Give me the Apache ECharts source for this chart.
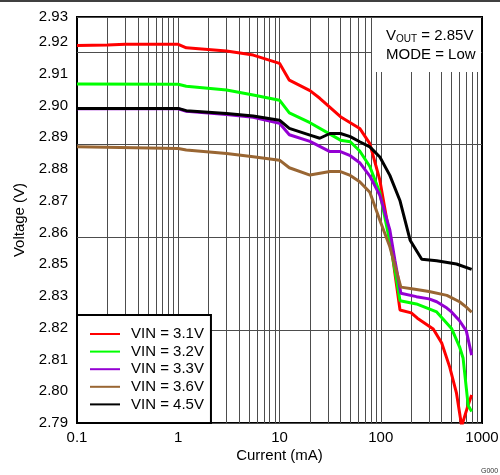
<!DOCTYPE html>
<html><head><meta charset="utf-8">
<script src="https://cdn.jsdelivr.net/npm/echarts@6/dist/echarts.min.js"></script>
<style>html,body{margin:0;padding:0;background:#fff}#c{width:500px;height:475px}</style>
</head><body><div id="c"></div>
<script>
// ---- data (current in mA, output voltage in V) ----
const seriesNames = ['VIN = 3.1V', 'VIN = 3.2V', 'VIN = 3.3V', 'VIN = 3.6V', 'VIN = 4.5V'];
const vin31 = [[0.1,2.9189],[0.2,2.9191],[0.3,2.9193],[1,2.9193],[1.2,2.9182],[3,2.9172],[5.5,2.9159],[10,2.9133],[12.5,2.9080],[20,2.9047],[25,2.9023],[40,2.8965],[62,2.8928],[78,2.8880],[98,2.8765],[123,2.8586],[155,2.8356],[200,2.8347],[230,2.8330],[330,2.8296],[400,2.8252],[480,2.8176],[560,2.8094],[630,2.7990],[720,2.8051],[790,2.8088]];
const vin32 = [[0.1,2.9068],[1,2.9067],[1.2,2.9061],[3,2.9049],[5.5,2.9033],[10,2.9017],[12.5,2.8977],[20,2.8946],[31.5,2.8910],[40,2.8891],[50,2.8886],[62,2.8857],[78,2.8808],[98,2.8725],[123,2.8570],[138,2.8482],[155,2.8385],[225,2.8375],[357,2.8350],[500,2.8298],[600,2.8240],[650,2.8205],[700,2.8110],[730,2.8055],[790,2.8036]];
const vin33 = [[0.1,2.8990],[1,2.8990],[1.2,2.8982],[3,2.8972],[5.5,2.8963],[10,2.8944],[12.5,2.8908],[20,2.8887],[31.5,2.8855],[40,2.8855],[50,2.8842],[62,2.8820],[78,2.8778],[98,2.8717],[123,2.8608],[138,2.8513],[158,2.8409],[225,2.8398],[300,2.8391],[357,2.8382],[450,2.8362],[500,2.8350],[600,2.8322],[700,2.8290],[790,2.8214]];
const vin36 = [[0.1,2.8870],[1,2.8865],[1.2,2.8860],[3,2.8849],[5.5,2.8839],[10,2.8828],[12.5,2.8804],[20,2.8781],[31.5,2.8792],[40,2.8792],[50,2.8780],[62,2.8760],[78,2.8727],[98,2.8639],[123,2.8555],[158,2.8428],[210,2.8422],[300,2.8414],[450,2.8402],[600,2.8382],[700,2.8365],[790,2.8349]];
const vin45 = [[0.1,2.8991],[1,2.8991],[1.2,2.8984],[3,2.8975],[5.5,2.8967],[10,2.8954],[12.5,2.8928],[20,2.8907],[25,2.8897],[31.5,2.8912],[40,2.8912],[50,2.8902],[62,2.8886],[78,2.8870],[98,2.8838],[123,2.8780],[155,2.8700],[195,2.8576],[254,2.8516],[357,2.8511],[560,2.8501],[790,2.8484]];
const seriesData = [vin31, vin32, vin33, vin36, vin45];
const seriesColors = ['#ff0000', '#00ff00', '#9400d3', '#996633', '#000000'];

// ---- axes / tick labels ----
const xTickLabels = ['0.1', '1', '10', '100', '1000'];
const yTickLabels = ['2.79','2.80','2.81','2.82','2.83','2.85','2.86','2.87','2.88','2.89','2.90','2.91','2.92','2.93'];
const xGridValues = [0.2,0.3,0.4,0.5,0.6,0.7,0.8,0.9,1,2,3,4,5,6,7,8,9,10,20,30,40,50,60,70,80,90,100,200,300,400,500,600,700,800,900];

const FONT = 'Liberation Sans, Arial, sans-serif';
const GRID_COLOR = '#4d4d4d';
const chart = echarts.init(document.getElementById('c'), null, {renderer: 'canvas'});

const yMin = 2.80, yMax = 2.9279, yStep = 0.01;

const series = seriesNames.map((n, i) => ({
  name: n, type: 'line', data: seriesData[i], symbol: 'none', showSymbol: false,
  lineStyle: {width: 3, color: seriesColors[i]}, itemStyle: {color: seriesColors[i]},
  z: 3, clip: true, animation: false, silent: true
}));
series.unshift({
  name: 'grid', type: 'line', data: [], silent: true, z: 1, animation: false,
  markLine: {
    silent: true, symbol: ['none', 'none'], label: {show: false}, z: 1, animation: false,
    lineStyle: {color: GRID_COLOR, width: 1, type: 'solid'},
    emphasis: {disabled: true},
    data: xGridValues.map(v => ({xAxis: v}))
  }
});

chart.setOption({
  animation: false,
  backgroundColor: '#fff',
  textStyle: {fontFamily: FONT},
  grid: {left: 77, right: 18, top: 17, bottom: 52, show: true, borderColor: '#000', borderWidth: 2, backgroundColor: 'transparent', outerBoundsMode: 'none'},
  xAxis: {
    type: 'log', logBase: 10, min: 0.1, max: 1000,
    axisLine: {show: false}, axisTick: {show: false}, splitLine: {show: false},
    axisLabel: {fontSize: 15, color: '#000', fontFamily: FONT, margin: 7,
      formatter: v => xTickLabels[Math.round(Math.log10(v)) + 1]},
    name: 'Current (mA)', nameLocation: 'middle', nameGap: 25, nameMoveOverlap: false,
    nameTextStyle: {fontSize: 15, color: '#000', fontFamily: FONT}
  },
  yAxis: [{
    type: 'value', min: yMin, max: yMax, interval: yStep,
    axisLine: {show: false}, axisTick: {show: false}, splitLine: {show: false},
    axisLabel: {fontSize: 15, color: '#000', fontFamily: FONT, margin: 9, showMaxLabel: true, showMinLabel: true,
      formatter: v => yTickLabels[Math.round((v - yMin) / yStep)] || ''},
    name: 'Voltage (V)', nameLocation: 'middle', nameGap: 50, nameMoveOverlap: false,
    nameTextStyle: {fontSize: 15, color: '#000', fontFamily: FONT}
  }, {
    type: 'value', min: 0, max: 4.377, interval: 1, position: 'right',
    axisLine: {show: false}, axisTick: {show: false}, axisLabel: {show: false},
    splitLine: {show: true, lineStyle: {color: GRID_COLOR, width: 1}}
  }],
  legend: {
    data: seriesNames, orient: 'vertical', left: 77, top: 315,
    padding: [11.5, 7, 11, 12], itemWidth: 30, itemHeight: 14, itemGap: 2.6,
    backgroundColor: '#fff', borderColor: '#000', borderWidth: 2, borderRadius: 0,
    textStyle: {fontSize: 15, color: '#000', fontFamily: FONT, padding: [0, 0, 0, 6]},
    itemStyle: {opacity: 0}, selectedMode: false, z: 10
  },
  graphic: [
    {type: 'line', shape: {x1: 0, y1: 1, x2: 500, y2: 1}, style: {stroke: '#000', lineWidth: 1.5}, z: 20},
    {type: 'rect', shape: {x: 372, y: 18, width: 109, height: 54}, style: {fill: '#fff'}, z: 10},
    {type: 'text', x: 386, y: 26, z: 11, style: {
      text: '{a|V}{s|OUT}{a| = 2.85V}\n{a|MODE = Low}',
      rich: {a: {fontSize: 15, lineHeight: 19, fontFamily: FONT, fill: '#000'},
             s: {fontSize: 10, lineHeight: 19, fontFamily: FONT, fill: '#000', padding: [8, 0, 0, 0]}},
      fill: '#000'}},
    {type: 'text', x: 481, y: 468, z: 11, style: {text: 'G000', fontSize: 7, fontFamily: FONT, fill: '#333'}}
  ],
  series: series
});
</script></body></html>
